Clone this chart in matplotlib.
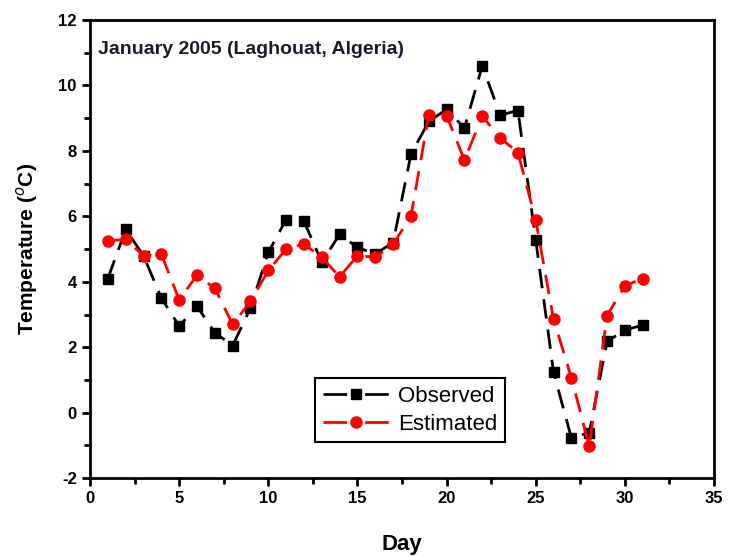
import matplotlib
matplotlib.use('Agg')
import matplotlib.pyplot as plt
from matplotlib.ticker import MultipleLocator

plt.rcParams['font.family'] = ['Liberation Sans', 'DejaVu Sans']
plt.rcParams['axes.unicode_minus'] = False

# Daily temperatures, January 2005 (Laghouat)
days = list(range(1, 32))
observed = [4.1, 5.6, 4.8, 3.5, 2.65, 3.25, 2.45, 2.05, 3.2, 4.9,
            5.9, 5.85, 4.6, 5.45, 5.05, 4.85, 5.2, 7.9, 8.9, 9.27,
            8.7, 10.6, 9.1, 9.23, 5.27, 1.23, -0.77, -0.61, 2.18, 2.52, 2.68]
estimated = [5.25, 5.3, 4.8, 4.85, 3.45, 4.2, 3.8, 2.7, 3.4, 4.35,
             5.0, 5.15, 4.75, 4.15, 4.8, 4.75, 5.15, 6.0, 9.11, 9.08,
             7.72, 9.06, 8.4, 7.95, 5.88, 2.85, 1.07, -1.03, 2.97, 3.88, 4.1]

fig = plt.figure(figsize=(7.29, 5.56), dpi=100)
ax = fig.add_axes([0.1235, 0.140, 0.856, 0.824])

ax.plot(days, observed, color='black', linestyle=(0, (7, 4)), linewidth=2,
        marker='s', markersize=7, label='Observed')
ax.plot(days, estimated, color='red', linestyle=(0, (7, 4)), linewidth=2,
        marker='o', markersize=8, label='Estimated')

ax.set_xlim(0, 35)
ax.set_ylim(-2, 12)
ax.xaxis.set_major_locator(MultipleLocator(5))
ax.xaxis.set_minor_locator(MultipleLocator(2.5))
ax.yaxis.set_major_locator(MultipleLocator(2))
ax.yaxis.set_minor_locator(MultipleLocator(1))
ax.tick_params(which='major', direction='out', length=6, width=2, labelsize=12)
ax.tick_params(which='minor', direction='out', length=4, width=2)
for lbl in ax.get_xticklabels() + ax.get_yticklabels():
    lbl.set_fontweight('bold')
for s in ax.spines.values():
    s.set_linewidth(2)

ax.set_xlabel('Day', fontsize=16, fontweight='bold', labelpad=20)
ax.set_ylabel('Temperature ($^o$C)', fontsize=15, fontweight='bold', labelpad=13)

ax.text(0.013, 0.955, 'January 2005 (Laghouat, Algeria)', transform=ax.transAxes,
        fontsize=14, fontweight='bold', color='#1a1a2e', va='top', ha='left')

leg = ax.legend(loc='center', bbox_to_anchor=(0.513, 0.148), fontsize=16,
                fancybox=False, edgecolor='black', framealpha=1,
                handlelength=3, borderpad=0.35, labelspacing=0.3,
                handletextpad=0.4)
leg.get_frame().set_linewidth(1.5)
# dash-marker-dash look in the legend key
for h in leg.legend_handles:
    h.set_linestyle((0, (8.5, 6.5)))

fig.savefig('out.png', dpi=100)
